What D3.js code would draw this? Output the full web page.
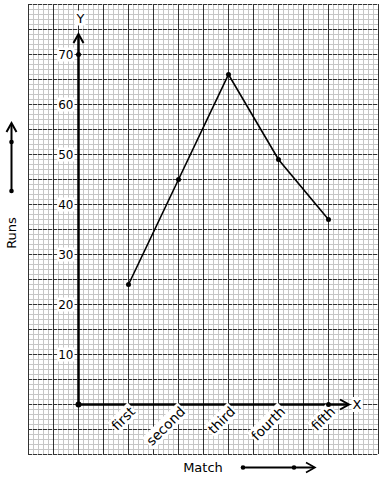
<!DOCTYPE html>
<html><head><meta charset="utf-8">
<script src="https://cdn.jsdelivr.net/npm/d3@7"></script>
<style>body{margin:0;background:#fff}svg{display:block;font-family:"DejaVu Sans",sans-serif}</style>
</head><body><svg id="c" width="383" height="480"></svg>
<script>
const categories = ["first","second","third","fourth","fifth"];
const runs = [24,45,66,49,37];
const yTicks = [10,20,30,40,50,60,70];
const xTitle = "Match", yTitle = "Runs";

const svg = d3.select("#c");
const x = d3.scaleLinear().domain([-1,6]).range([28,378]);
const y = d3.scaleLinear().domain([-10,80]).range([454,4]);

const g = svg.append("g");
// minor grid
const minorX = d3.range(-1,6.0001,0.1).map(v=>+v.toFixed(2));
const minorY = d3.range(-10,80.001,1);
g.selectAll(".mx").data(minorX).join("line").attr("x1",d=>x(d)+0.5).attr("x2",d=>x(d)+0.5)
  .attr("y1",y(-10)).attr("y2",y(80)).attr("stroke","#c6c6c6").attr("stroke-width",1);
g.selectAll(".my").data(minorY).join("line").attr("y1",d=>y(d)+0.5).attr("y2",d=>y(d)+0.5)
  .attr("x1",x(-1)).attr("x2",x(6)).attr("stroke","#c6c6c6").attr("stroke-width",1);
// major grid
const majX = d3.range(-1,6.0001,0.5);
const majY = d3.range(-10,80.001,5);
g.selectAll(".Mx").data(majX).join("line").attr("x1",d=>x(d)+0.5).attr("x2",d=>x(d)+0.5)
  .attr("y1",y(-10)).attr("y2",y(80)).attr("stroke","#333").attr("stroke-width",1);
g.selectAll(".My").data(majY).join("line").attr("y1",d=>y(d)+0.5).attr("y2",d=>y(d)+0.5)
  .attr("x1",x(-1)).attr("x2",x(6)).attr("stroke","#333").attr("stroke-width",1)
  .attr("stroke-dasharray","4,1");

// axes
const ox = x(0)+0.5, oy = y(0)+0.5;
svg.append("line").attr("x1",ox).attr("x2",ox).attr("y1",oy).attr("y2",y(73.8)).attr("stroke","#000").attr("stroke-width",2.5);
svg.append("line").attr("x1",ox).attr("x2",x(5.4)).attr("y1",oy).attr("y2",oy).attr("stroke","#000").attr("stroke-width",2.5);
// arrowheads
function chevronUp(cx,ty){svg.append("path").attr("d",`M${cx-5},${ty+9}L${cx},${ty}L${cx+5},${ty+9}`).attr("fill","none").attr("stroke","#000").attr("stroke-width",2);}
function chevronRight(tx,cy){svg.append("path").attr("d",`M${tx-9},${cy-5}L${tx},${cy}L${tx-9},${cy+5}`).attr("fill","none").attr("stroke","#000").attr("stroke-width",2);}
chevronUp(ox,y(74));
chevronRight(x(5.42),oy);

function labelBg(sel){
  sel.each(function(){
    const b=this.getBBox();
    const t=this.getAttribute("transform");
    const r=d3.select(this.parentNode).insert("rect",()=>this)
      .attr("x",b.x-1).attr("y",b.y).attr("width",b.width+2).attr("height",b.height).attr("fill","#fff");
    if(t) r.attr("transform",t);
  });
}

// axis letters
const yl = svg.append("g");
yl.append("text").attr("x",ox+2).attr("y",y(76.3)).attr("text-anchor","middle").attr("font-size",13).text("Y").call(labelBg);
const xl = svg.append("g");
xl.append("text").attr("x",x(5.58)).attr("y",oy+4.5).attr("text-anchor","middle").attr("font-size",13).text("X").call(labelBg);

// y tick labels
const yg = svg.append("g");
yg.selectAll("text").data(yTicks).join("text").attr("x",ox-5).attr("y",d=>y(d)+4.5)
  .attr("text-anchor","end").attr("font-size",12).text(d=>d).call(labelBg);

// x tick labels
const xg = svg.append("g");
xg.selectAll("text").data(categories).join("text")
  .attr("transform",(d,i)=>`translate(${x(i+1)+8},${oy+8}) rotate(-45)`)
  .attr("text-anchor","end").attr("font-size",13.5).text(d=>d).call(labelBg);

// dots on axes
svg.append("circle").attr("cx",ox).attr("cy",oy).attr("r",3).attr("fill","#000");
svg.append("circle").attr("cx",ox).attr("cy",y(70)+0.5).attr("r",2.5).attr("fill","#000");
svg.append("circle").attr("cx",x(5)+0.5).attr("cy",oy).attr("r",2.5).attr("fill","#000");

// data line
const pts = runs.map((v,i)=>[x(i+1)+0.5,y(v)+0.5]);
svg.append("path").attr("d",d3.line()(pts)).attr("fill","none").attr("stroke","#000").attr("stroke-width",1.6);
svg.selectAll(".pt").data(pts).join("circle").attr("cx",d=>d[0]).attr("cy",d=>d[1]).attr("r",2.5).attr("fill","#000");

// y title
svg.append("text").attr("transform","translate(16,233) rotate(-90)").attr("text-anchor","middle").attr("font-size",13).text(yTitle);
svg.append("line").attr("x1",11.5).attr("x2",11.5).attr("y1",191).attr("y2",124).attr("stroke","#000").attr("stroke-width",2);
svg.append("path").attr("d","M6.5,132L11.5,123L16.5,132").attr("fill","none").attr("stroke","#000").attr("stroke-width",2);
svg.append("circle").attr("cx",11.5).attr("cy",142).attr("r",2.3).attr("fill","#000");
svg.append("circle").attr("cx",11.5).attr("cy",191).attr("r",2.3).attr("fill","#000");

// x title
svg.append("text").attr("x",203).attr("y",472).attr("text-anchor","middle").attr("font-size",13).text(xTitle);
svg.append("line").attr("x1",243).attr("x2",314).attr("y1",467.5).attr("y2",467.5).attr("stroke","#000").attr("stroke-width",2);
svg.append("path").attr("d","M306,462.5L315,467.5L306,472.5").attr("fill","none").attr("stroke","#000").attr("stroke-width",1.6);
svg.append("circle").attr("cx",243).attr("cy",467.5).attr("r",2.3).attr("fill","#000");
svg.append("circle").attr("cx",294).attr("cy",467.5).attr("r",2.3).attr("fill","#000");
</script></body></html>
